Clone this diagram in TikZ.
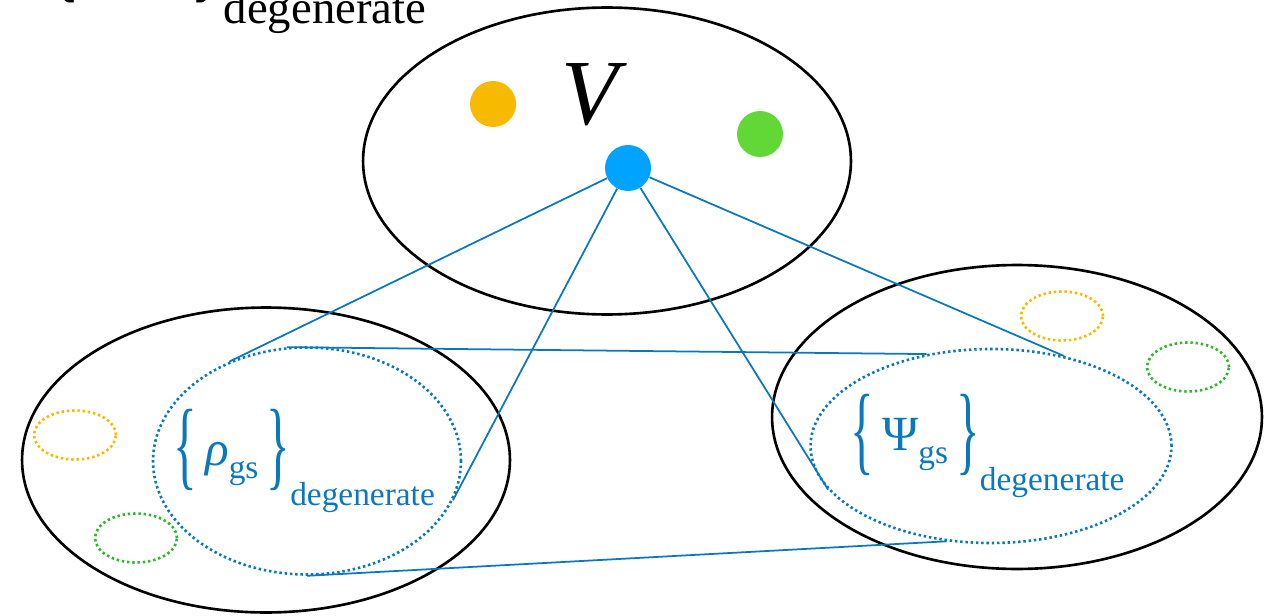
\documentclass[tikz,border=0pt]{standalone}
\usepackage{fontspec}
\setmainfont{Liberation Serif}
\usepackage{graphicx}
\usetikzlibrary{shapes.geometric}
\definecolor{linkblue}{HTML}{0B78BE}
\definecolor{dotblue}{HTML}{00A3FF}
\definecolor{dotorange}{HTML}{F8BA00}
\definecolor{dotgreen}{HTML}{61D836}
\definecolor{ringgreen}{HTML}{2EB82E}

% braces set with subscript "degenerate"
\newcommand{\degset}[1]{\raisebox{-7pt}{\scalebox{1}[2]{\{}}\,#1\raisebox{-7.4pt}{\fontsize{19}{20}\selectfont gs}\,\raisebox{-7pt}{\scalebox{1}[2]{\}}}\raisebox{-22.8pt}{\fontsize{19}{20}\selectfont degenerate}}

\begin{document}
\begin{tikzpicture}[x=0.02cm, y=-0.02cm,
  bigset/.style={ellipse, draw=black, line width=1.5pt, inner sep=0pt},
  subset/.style={ellipse, line width=1.5pt, dash pattern=on 1.4pt off 1.6pt, inner sep=0pt},
  smallset/.style={subset, minimum width=1.64cm, minimum height=0.98cm},
  dot/.style={circle, inner sep=0pt, minimum size=0.92cm},
  link/.style={linkblue, line width=1pt},
  formula/.style={linkblue, anchor=base west, inner sep=0pt, font=\fontsize{28}{30}\selectfont}
]
  \clip (0,0) rectangle (1267,615);

  \node[anchor=base west, inner sep=0pt, font=\fontsize{28}{30}\selectfont] (topset) at (47,-33) {\scalebox{1.4}{\degset{\phantom{ρ\,}}}};

  \node[bigset, minimum width=9.76cm, minimum height=6.14cm] (vspace) at (607,161) {};
  \node[bigset, minimum width=9.76cm, minimum height=6.1cm] (rhospace) at (266,460) {};
  \node[bigset, minimum width=9.8cm, minimum height=6.08cm] (psispace) at (1017,417) {};

  \node[subset, draw=linkblue, minimum width=6.16cm, minimum height=4.54cm] (rhoset) at (307,461) {};
  \node[subset, draw=linkblue, minimum width=7.22cm, minimum height=3.88cm] (psiset) at (991,446) {};

  \node[smallset, draw=dotorange] (rhoorange) at (75,435) {};
  \node[smallset, draw=ringgreen] (rhogreen) at (136,538) {};
  \node[smallset, draw=dotorange] (psiorange) at (1062,316) {};
  \node[smallset, draw=ringgreen] (psigreen) at (1188,367) {};

  \node[formula] (rholabel) at (173,465) {\degset{{\itshape ρ}}};
  \node[formula] (psilabel) at (850,450) {\degset{Ψ}};

  \node[anchor=base, inner sep=0pt, font=\fontsize{53}{55}\selectfont\itshape] (vlabel) at (590,125) {V};

  \node[dot] (vblue) at (628,168) {};
  \draw[link] (vblue) -- (rhoset.128);
  \draw[link] (vblue) -- (rhoset.345);
  \draw[link] (vblue) -- (psiset.195);
  \draw[link] (vblue) -- (psiset.51);
  \draw[link] (rhoset.100) -- (psiset.125);
  \draw[link] (rhoset.270) -- (psiset.245);

  \node[dot, fill=dotblue] at (vblue) {};
  \node[dot, fill=dotorange] (vorange) at (493,104) {};
  \node[dot, fill=dotgreen] (vgreen) at (760,134) {};
\end{tikzpicture}
\end{document}
